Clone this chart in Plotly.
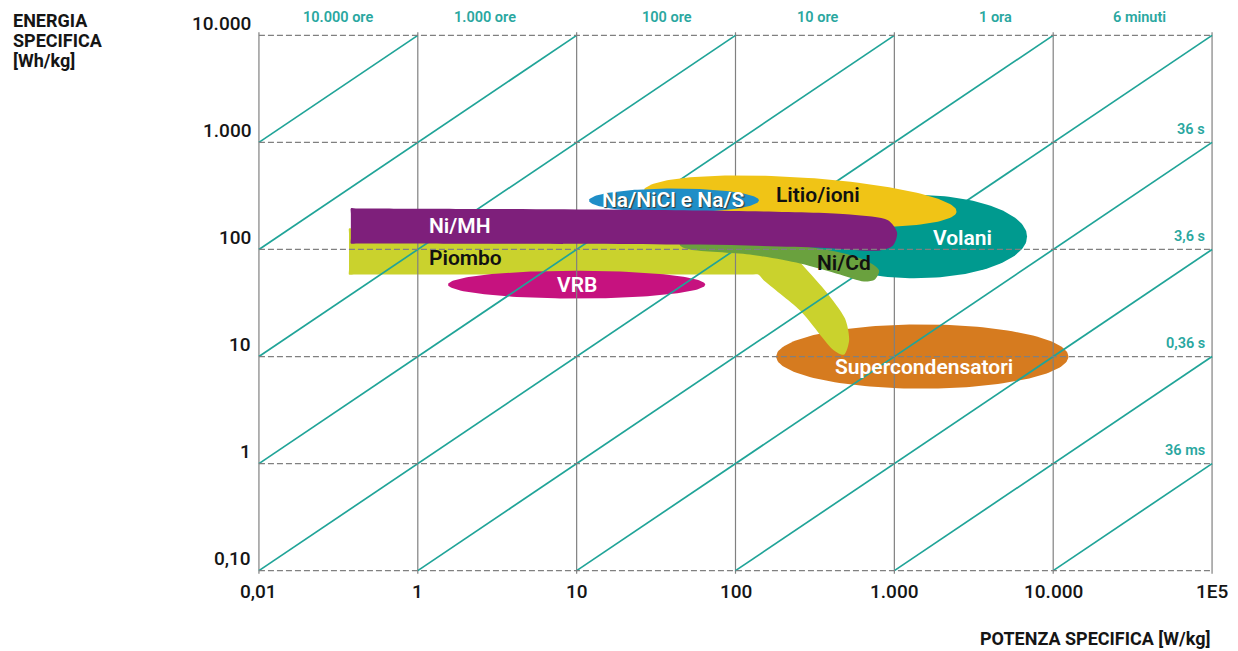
import numpy as np
import plotly.graph_objects as go

# ---------------- axes (specific power W/kg, specific energy Wh/kg) ----------------
power_ticks = [0.1, 1, 10, 100, 1000, 10000, 100000]
power_labels = ["0,01", "1", "10", "100", "1.000", "10.000", "1E5"]
energy_ticks = [0.1, 1, 10, 100, 1000, 10000]
energy_labels = ["0,10", "1", "10", "100", "1.000", "10.000"]
energy_title_lines = ["ENERGIA", "SPECIFICA", "[Wh/kg]"]
power_title = "POTENZA SPECIFICA [W/kg]"

# ---------------- constant discharge-time lines E/P = t [h] ----------------
time_hours = [10000, 1000, 100, 10, 1, 0.1, 0.01, 0.001, 0.0001, 0.00001]
top_time_labels = ["10.000 ore", "1.000 ore", "100 ore", "10 ore", "1 ora", "6 minuti"]
top_label_power = [0.314, 2.65, 37.1, 326, 4305, 34700]
right_time_labels = ["36 s", "3,6 s", "0,36 s", "36 ms"]
right_label_energy = [1000, 100, 10, 1]

# ---------------- elliptical regions (centre, half-span in decades, tilt) ----------------
ell_names = ["Supercondensatori", "VRB", "Volani", "Litio/ioni", "Na/NiCl e Na/S"]
ell_power = [1500, 10, 1350, 255, 41]
ell_energy = [10, 47, 132, 281, 287]
ell_span_p = [0.92, 0.81, 0.705, 0.99, 0.535]
ell_span_e = [0.30, 0.13, 0.39, 0.224, 0.112]
ell_tilt = [0, 0, 0, -5.7, 0]

# ---------------- band-shaped regions (outline in W/kg, Wh/kg) ----------------
piombo_power = [0.369, 0.396, 177, 244, 366, 489, 519, 482, 417, 255, 151, 139, 123,
                59.8, 0.396, 0.369, 0.369, 0.369]
piombo_energy = [157, 157, 157, 82.4, 41.4, 22.6, 14.1, 10.4, 11.4, 26.9, 51.3, 58.3, 58.3,
                 58.3, 58.3, 58.3, 65.0, 141]

nimh_power = [0.379, 0.408, 59.8, 526, 912, 1040, 981, 813, 340, 59.8, 0.408, 0.379, 0.379, 0.379]
nimh_energy = [242, 242, 231, 212, 187, 144, 109, 98, 104, 111, 114, 114, 127, 217]

nicd_power = [44.8, 143, 455, 682, 802, 755, 644, 455, 255, 123, 51.8, 44.8]
nicd_energy = [144, 121, 93.8, 77.2, 63.7, 52.5, 50.2, 58.3, 74.0, 89.7, 100, 109]

# ---------------- region labels ----------------
label_names = ["Na/NiCl e Na/S", "Litio/ioni", "Ni/MH", "Piombo", "VRB", "Volani", "Ni/Cd", "Supercondensatori"]
label_power = [40.5, 330, 1.84, 2.01, 10.0, 2700, 482, 1540]
label_energy = [287, 320, 164, 82.4, 46.1, 127, 74, 8.07]

# ---------------- styling ----------------
COLORS = {
    "Supercondensatori": "#d67b1f",
    "VRB": "#c6127f",
    "Volani": "#009a8f",
    "Litio/ioni": "#f0c416",
    "Na/NiCl e Na/S": "#1f8ec7",
    "Piombo": "#cad22d",
    "Ni/MH": "#7e1f7b",
    "Ni/Cd": "#6aa13e",
}
LABEL_COLORS = {
    "Na/NiCl e Na/S": "white", "Litio/ioni": "#111111", "Ni/MH": "white",
    "Piombo": "#111111", "VRB": "white", "Volani": "white", "Ni/Cd": "#111111",
    "Supercondensatori": "white",
}
TEAL = "#20a498"
GRID = "#808080"
FONT = "Roboto"

X_MIN, X_MAX = np.log10(power_ticks[0]), np.log10(power_ticks[-1])
Y_MIN, Y_MAX = np.log10(energy_ticks[0]), np.log10(energy_ticks[-1])
PAD = 0.05


def ellipse_outline(i, n=160):
    t = np.linspace(0, 2 * np.pi, n)
    a = np.radians(ell_tilt[i])
    u = ell_span_p[i] * np.cos(t)
    v = ell_span_e[i] * np.sin(t)
    lx = np.log10(ell_power[i]) + u * np.cos(a) - v * np.sin(a)
    ly = np.log10(ell_energy[i]) + u * np.sin(a) + v * np.cos(a)
    return 10 ** lx, 10 ** ly


def region_ellipse(name):
    i = ell_names.index(name)
    px, py = ellipse_outline(i)
    return go.Scatter(x=px, y=py, mode="lines", fill="toself", fillcolor=COLORS[name],
                      line=dict(width=0, color=COLORS[name]), hoverinfo="skip", name=name)


def region_band(name, p, e):
    p = list(p) + [p[0]]
    e = list(e) + [e[0]]
    return go.Scatter(x=p, y=e, mode="lines", fill="toself", fillcolor=COLORS[name],
                      line=dict(width=0, color=COLORS[name], shape="spline", smoothing=0.8),
                      hoverinfo="skip", name=name)


fig = go.Figure()

# regions lying under the grid
fig.add_trace(region_ellipse("Supercondensatori"))
fig.add_trace(region_band("Piombo", piombo_power, piombo_energy))
fig.add_trace(region_ellipse("VRB"))

# vertical decade lines
ext = 0.028
for p in power_ticks:
    fig.add_trace(go.Scatter(x=[p, p], y=[10 ** (Y_MIN - ext), 10 ** (Y_MAX + ext)], mode="lines",
                             line=dict(color=GRID, width=1.2), hoverinfo="skip"))

# discharge-time diagonals, clipped to the grid box
for t in time_hours:
    k = np.log10(t)
    x0 = max(X_MIN, Y_MIN - k)
    x1 = min(X_MAX, Y_MAX - k)
    if x1 <= x0:
        continue
    fig.add_trace(go.Scatter(x=[10 ** x0, 10 ** x1], y=[10 ** (x0 + k), 10 ** (x1 + k)], mode="lines",
                             line=dict(color=TEAL, width=1.7), hoverinfo="skip"))

# regions lying over the grid
fig.add_trace(region_ellipse("Volani"))
fig.add_trace(region_ellipse("Litio/ioni"))
fig.add_trace(region_ellipse("Na/NiCl e Na/S"))
fig.add_trace(region_band("Ni/Cd", nicd_power, nicd_energy))
fig.add_trace(region_band("Ni/MH", nimh_power, nimh_energy))

# horizontal dashed decade lines
for e in energy_ticks:
    fig.add_trace(go.Scatter(x=[power_ticks[0], power_ticks[-1]], y=[e, e], mode="lines",
                             line=dict(color=GRID, width=1.2, dash="6px,3px"), hoverinfo="skip"))

ann = []
tick_font = dict(family=FONT, size=19, color="#151515", weight=500)
for v, s in zip(energy_ticks, energy_labels):
    ann.append(dict(xref="paper", x=0, xanchor="right", xshift=2, yref="y", y=np.log10(v),
                    yanchor="middle", yshift=12, text=s, showarrow=False, font=tick_font))
for v, s in zip(power_ticks, power_labels):
    ann.append(dict(xref="x", x=np.log10(v), xanchor="center", yref="y", y=Y_MIN,
                    yanchor="middle", yshift=-21, text=s, showarrow=False, font=tick_font))

teal_font = dict(family=FONT, size=14.5, color="#2aa7a0", weight=600)
for v, s in zip(top_label_power, top_time_labels):
    ann.append(dict(xref="x", x=np.log10(v), xanchor="center", yref="y", y=Y_MAX,
                    yanchor="middle", yshift=18, text=s, showarrow=False, font=teal_font))
for v, s in zip(right_label_energy, right_time_labels):
    ann.append(dict(xref="x", x=X_MAX, xanchor="right", xshift=-5, yref="y", y=np.log10(v),
                    yanchor="middle", yshift=13, text=s, showarrow=False, font=teal_font))

for name, p, e in zip(label_names, label_power, label_energy):
    f = dict(family=FONT, size=21, color=LABEL_COLORS[name], weight=600)
    if name == "Na/NiCl e Na/S":
        f["shadow"] = "1px 1px 1px #333333"
    ann.append(dict(xref="x", x=np.log10(p), xanchor="center", yref="y", y=np.log10(e),
                    yanchor="middle", text=name, showarrow=False, font=f))

# axis titles: energy title stacked at top-left, power title at bottom-right
title_font = dict(family=FONT, size=18, color="#151515", weight=700)
for j, line in enumerate(energy_title_lines):
    ann.append(dict(xref="paper", x=-0.2476, xanchor="left", yref="paper", y=1.0183,
                    yanchor="middle", yshift=-20 * j, text=line, showarrow=False, font=title_font))
ann.append(dict(xref="paper", x=0.9917, xanchor="right", yref="paper", y=-0.1136,
                yanchor="middle", text=power_title, showarrow=False, font=title_font))

axis_common = dict(type="log", showgrid=False, zeroline=False, showline=False,
                   showticklabels=False, ticks="", fixedrange=True)
fig.update_layout(
    width=1238, height=651,
    margin=dict(l=251, r=18, t=30, b=75),
    paper_bgcolor="white", plot_bgcolor="white",
    showlegend=False,
    xaxis=dict(range=[X_MIN - PAD, X_MAX + PAD], **axis_common),
    yaxis=dict(range=[Y_MIN - PAD, Y_MAX + PAD], **axis_common),
    annotations=ann,
)

fig.write_html("out.html")
